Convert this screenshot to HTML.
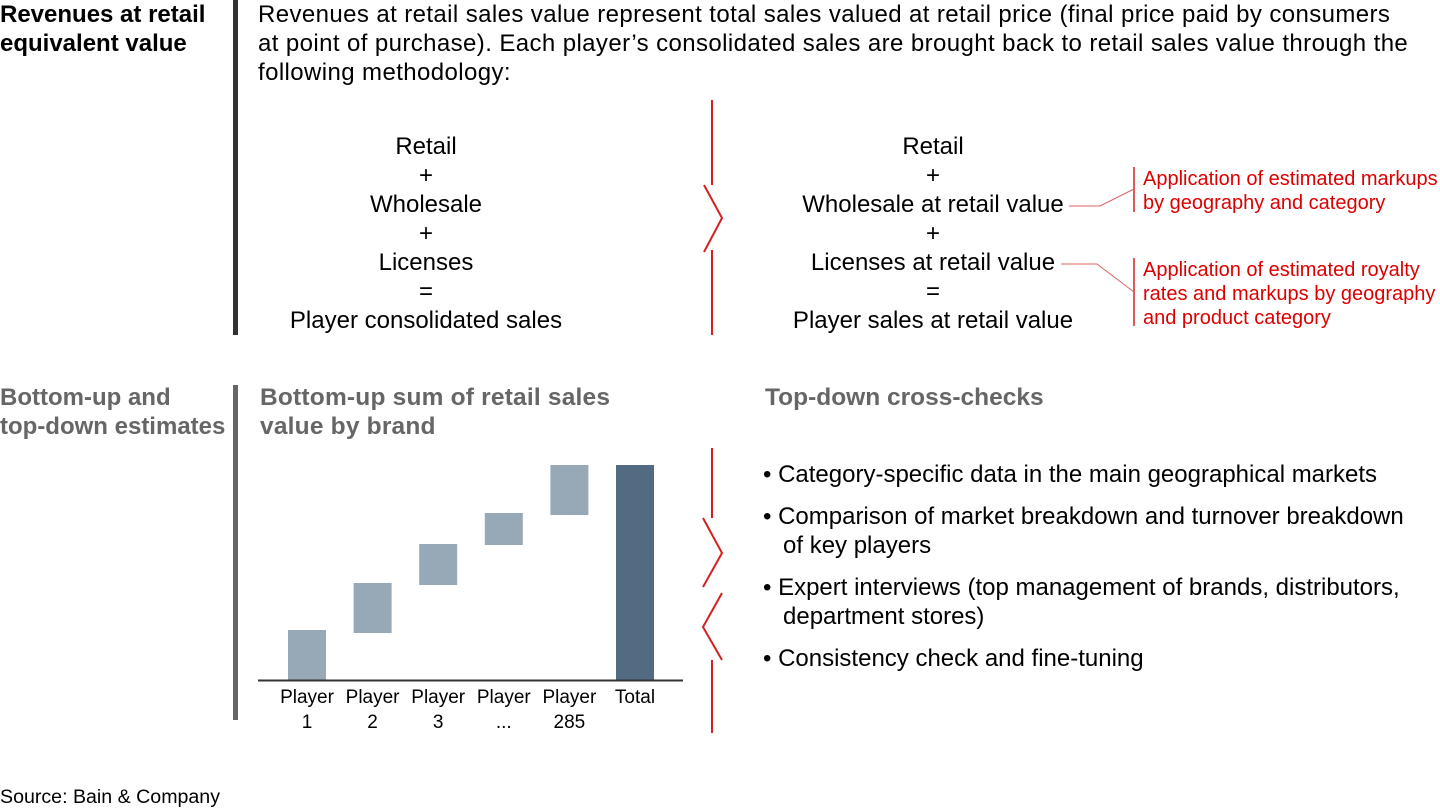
<!DOCTYPE html>
<html><head><meta charset="utf-8"><style>
body{margin:0;width:1440px;height:810px;background:#fff;font-family:"Liberation Sans",sans-serif;position:relative;overflow:hidden;color:#000}
.t{position:absolute;white-space:nowrap;font-size:24px;line-height:29px}
.b{font-weight:bold}
.g{color:#666}
.r{color:#d00;font-size:20px;line-height:24px}
.c{text-align:center;transform:translateX(-50%)}
</style></head><body>
<div class="t b" style="left:0;top:0">Revenues at retail<br>equivalent value</div>
<div style="position:absolute;left:233px;top:0;width:5px;height:335px;background:#333"></div>
<div class="t" style="left:258px;top:0;letter-spacing:0.4px">Revenues at retail sales value represent total sales valued at retail price (final price paid by consumers<br>at point of purchase). Each player’s consolidated sales are brought back to retail sales value through the<br>following methodology:</div>
<div class="t c" style="left:426px;top:132px">Retail<br>+<br>Wholesale<br>+<br>Licenses<br>=<br>Player consolidated sales</div>
<div class="t c" style="left:933px;top:132px">Retail<br>+<br>Wholesale at retail value<br>+<br>Licenses at retail value<br>=<br>Player sales at retail value</div>
<div class="t r" style="left:1143px;top:167px">Application of estimated markups<br>by geography and category</div>
<div class="t r" style="left:1143px;top:258px">Application of estimated royalty<br>rates and markups by geography<br>and product category</div>
<div class="t b g" style="left:0;top:383px">Bottom-up and<br>top-down estimates</div>
<div style="position:absolute;left:233px;top:385px;width:5px;height:335px;background:#666"></div>
<div class="t b g" style="left:260px;top:383px;font-size:24.5px;letter-spacing:0.2px">Bottom-up sum of retail sales<br>value by brand</div>
<div class="t b g" style="left:765px;top:383px;font-size:24.5px;letter-spacing:0px">Top-down cross-checks</div>
<div class="t" style="left:763px;top:460px">• Category-specific data in the main geographical markets</div>
<div class="t" style="left:763px;top:502px">• Comparison of market breakdown and turnover breakdown<br>&nbsp;&nbsp;&nbsp;of key players</div>
<div class="t" style="left:763px;top:573px">• Expert interviews (top management of brands, distributors,<br>&nbsp;&nbsp;&nbsp;department stores)</div>
<div class="t" style="left:763px;top:644px">• Consistency check and fine-tuning</div>
<div class="t" style="left:0;top:785px;font-size:19.6px;line-height:24px">Source: Bain &amp; Company</div>
<svg width="1440" height="810" style="position:absolute;left:0;top:0">
<g stroke="#d42020" stroke-width="2" fill="none">
<path d="M712 100V185M704 185L722 218L704 252M712 250V335"/>
<path d="M712 448V518M703 518L722 553L703 587M722 593L703 627L722 660M712 660V733"/>
<path d="M1134 167V212M1134 258V326" stroke-width="1.5"/>
<path d="M1069 206H1100L1134 189M1061 264H1097L1134 292" stroke-width="1" stroke="#e06060"/>
</g>
<g id="chart"></g>
</svg>
<script>
const categories=["Player\n1","Player\n2","Player\n3","Player\n...","Player\n285","Total"];
const barStart=[0,47,95,135,165,0];
const barEnd=[50,97,136,167,215,215];
const NS="http://www.w3.org/2000/svg";
const g=document.getElementById('chart');
const y0=680,yMax=215,yTop=465;
const y=v=>y0-(v/yMax)*(y0-yTop);
const x=i=>307+i*65.6;
categories.forEach((c,i)=>{
 const r=document.createElementNS(NS,'rect');
 r.setAttribute('x',x(i)-19);r.setAttribute('width',38);
 r.setAttribute('y',y(barEnd[i]));r.setAttribute('height',y(barStart[i])-y(barEnd[i]));
 r.setAttribute('fill',i==categories.length-1?'#526b83':'#97a8b6');
 
 
 g.appendChild(r);
 c.split('\n').forEach((s,k)=>{
  const t=document.createElementNS(NS,'text');
  t.setAttribute('x',x(i));t.setAttribute('y',703+k*25);
  t.setAttribute('text-anchor','middle');t.setAttribute('font-size','19');
  t.setAttribute('font-family','Liberation Sans, sans-serif');
  t.textContent=s;
  
  
  g.appendChild(t);
 });
});
const ax=document.createElementNS(NS,'line');
ax.setAttribute('x1',258);ax.setAttribute('x2',683);ax.setAttribute('y1',680.5);ax.setAttribute('y2',680.5);
ax.setAttribute('stroke','#333');ax.setAttribute('stroke-width','2');


g.appendChild(ax);
</script>
</body></html>
